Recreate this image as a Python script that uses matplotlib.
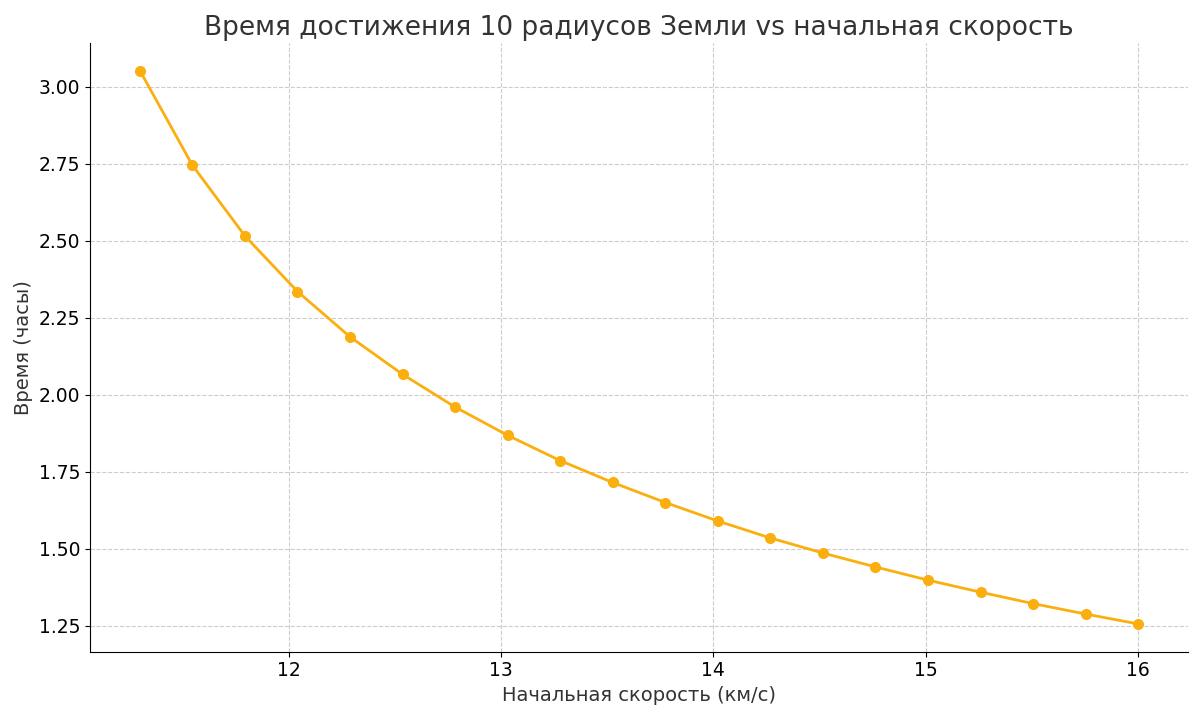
import matplotlib
matplotlib.use("Agg")
import matplotlib.pyplot as plt

# начальная скорость, км/с
speeds = [11.30, 11.547, 11.795, 12.042, 12.289, 12.537, 12.784, 13.032, 13.279, 13.526,
          13.774, 14.021, 14.268, 14.516, 14.763, 15.011, 15.258, 15.505, 15.753, 16.00]
# время достижения, часы
hours = [3.052, 2.745, 2.515, 2.335, 2.188, 2.066, 1.960, 1.868, 1.786, 1.715,
         1.650, 1.590, 1.535, 1.486, 1.441, 1.398, 1.359, 1.322, 1.288, 1.256]

fig, ax = plt.subplots(figsize=(12, 7.16), dpi=100)
ax.plot(speeds, hours, color="#FBAF0F", linewidth=2, marker="o", markersize=7)

ax.set_title("Время достижения 10 радиусов Земли vs начальная скорость", fontsize=19, color="#333333")
ax.set_xlabel("Начальная скорость (км/с)", fontsize=14, color="#333333")
ax.set_ylabel("Время (часы)", fontsize=14, color="#333333")
ax.set_yticks([1.25, 1.5, 1.75, 2.0, 2.25, 2.5, 2.75, 3.0])
ax.tick_params(labelsize=13.5)
ax.grid(True, linestyle="--", color="#cccccc", linewidth=0.8)
ax.spines["top"].set_visible(False)
ax.spines["right"].set_visible(False)

fig.subplots_adjust(left=0.075, right=0.99, top=0.94, bottom=0.09)
fig.savefig("out.png")
